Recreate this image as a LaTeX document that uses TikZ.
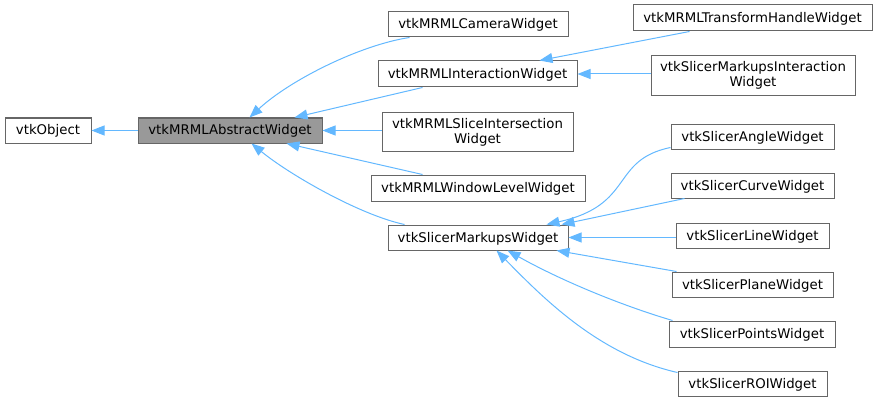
\documentclass[tikz,border=0pt]{standalone}
\usepackage{fontspec}
\newfontfamily\dv{DejaVu Sans}
\usetikzlibrary{arrows.meta}
\definecolor{boxgray}{HTML}{666666}
\definecolor{absfill}{HTML}{999999}
\definecolor{edgeblue}{HTML}{63B8FF}
\tikzset{
  box/.style={draw=boxgray, line width=1pt, fill=white, rectangle, inner sep=0pt,
    font=\dv\fontsize{13.3}{15}\selectfont, text height=10pt, text depth=1pt},
  box2/.style={draw=boxgray, line width=1pt, fill=white, rectangle, inner sep=0pt,
    align=center, font=\dv\fontsize{13.3}{15}\selectfont},
  edge/.style={draw=edgeblue, line width=1pt, -{Triangle[length=13pt,width=10pt]}}
}
\begin{document}
\begin{tikzpicture}[x=1pt,y=-1pt]
\useasboundingbox (0,0) rectangle (877,401);
% nodes
\node[box, minimum width=86pt, minimum height=25pt] (obj) at (48,130.5) {vtkObject};
\node[box, fill=absfill, minimum width=184pt, minimum height=25pt] (abs) at (230,130.5) {vtkMRMLAbstractWidget};
\node[box, minimum width=180pt, minimum height=25pt] (cam) at (478,24.5) {vtkMRMLCameraWidget};
\node[box, minimum width=199pt, minimum height=26pt] (inter) at (477.5,74) {vtkMRMLInteractionWidget};
\node[box2, minimum width=191pt, minimum height=39pt] (slice) at (477.5,132) {vtkMRMLSliceIntersection\\Widget};
\node[box, minimum width=214pt, minimum height=26pt] (wl) at (478,188) {vtkMRMLWindowLevelWidget};
\node[box, minimum width=180pt, minimum height=25pt] (mk) at (478,237.5) {vtkSlicerMarkupsWidget};
\node[box, minimum width=239pt, minimum height=26pt] (th) at (752.5,18) {vtkMRMLTransformHandleWidget};
\node[box2, minimum width=204pt, minimum height=40pt] (mi) at (753,75.5) {vtkSlicerMarkupsInteraction\\Widget};
\node[box, minimum width=163pt, minimum height=25pt] (angle) at (752.5,136.5) {vtkSlicerAngleWidget};
\node[box, minimum width=163pt, minimum height=25pt] (curve) at (752.5,185.5) {vtkSlicerCurveWidget};
\node[box, minimum width=153pt, minimum height=25pt] (line) at (752.5,235.5) {vtkSlicerLineWidget};
\node[box, minimum width=161pt, minimum height=25pt] (plane) at (752.5,284.5) {vtkSlicerPlaneWidget};
\node[box, minimum width=166pt, minimum height=26pt] (points) at (752,334) {vtkSlicerPointsWidget};
\node[box, minimum width=149pt, minimum height=25pt] (roi) at (752.5,383.5) {vtkSlicerROIWidget};
% edges
\draw[edge] (abs.west) -- (obj.east);
\draw[edge] ([xshift=22pt]cam.south west) .. controls (360,45) and (290,80) .. ([xshift=112pt]abs.north west);
\draw[edge] ([xshift=45pt]inter.south west) -- ([xshift=157pt]abs.north west);
\draw[edge] (abs.east -| slice.west) -- (abs.east);
\draw[edge] ([xshift=52pt]wl.north west) -- ([xshift=149pt]abs.south west);
\draw[edge] ([xshift=17pt]mk.north west) .. controls (360,215) and (290,175) .. ([xshift=114pt]abs.south west);
\draw[edge] ([xshift=57pt]th.south west) -- ([xshift=162pt]inter.north west);
\draw[edge] (inter.east -| mi.west) -- (inter.east);
\draw[edge] ([yshift=2pt]angle.south west) .. controls (610,160) and (635,205) .. ([xshift=159pt]mk.north west);
\draw[edge] ([xshift=14pt]curve.south west) -- ([xshift=174pt]mk.north west);
\draw[edge] (mk.east -| line.west) -- (mk.east);
\draw[edge] ([xshift=5pt]plane.north west) -- ([xshift=169pt]mk.south west);
\draw[edge] ([xshift=4pt]points.north west) .. controls (620,305) and (560,280) .. ([xshift=120pt]mk.south west);
\draw[edge] ([yshift=-2pt]roi.north west) .. controls (600,355) and (545,300) .. ([xshift=109pt]mk.south west);
\end{tikzpicture}
\end{document}
